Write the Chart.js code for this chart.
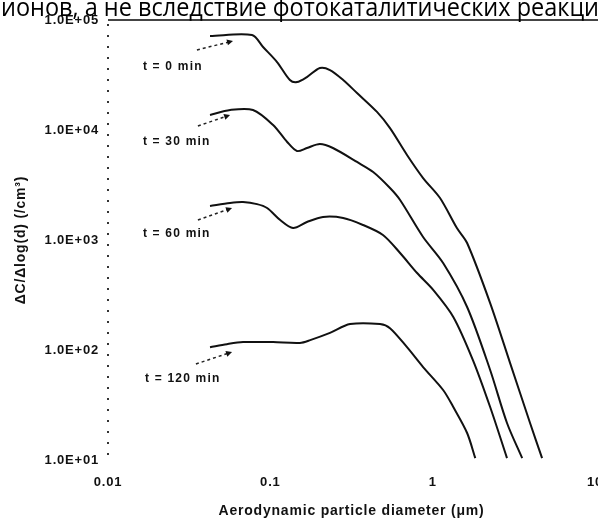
<!DOCTYPE html>
<html>
<head>
<meta charset="utf-8">
<script src="https://cdn.jsdelivr.net/npm/chart.js@4.4.0/dist/chart.umd.min.js"></script>
<style>
html, body { margin: 0; padding: 0; background: #fff; }
#wrap { width: 598px; height: 524px; }
</style>
</head>
<body>
<div id="wrap"><canvas id="sizechart"></canvas></div>
<script>
// text cut from the page above the figure
const headerText = 'ионов, а не вследствие фотокаталитических реакци';

// axes
const xTicks = [0.01, 0.1, 1, 10];
const xTickLabels = ['0.01', '0.1', '1', '10'];
const yTicks = [10, 100, 1000, 10000, 100000];
const yTickLabels = ['1.0E+01', '1.0E+02', '1.0E+03', '1.0E+04', '1.0E+05'];

// t = 0 min
const diam0 = [0.0425, 0.0771, 0.0902, 0.110, 0.132, 0.146, 0.168, 0.202, 0.233, 0.281, 0.342, 0.454, 0.546, 0.695, 0.873, 1.11, 1.41, 1.63, 2.26, 3.00, 3.98, 4.72];
const conc0 = [71500, 73000, 56800, 41500, 28500, 27300, 30300, 36600, 35100, 28500, 21700, 14600, 10400, 5930, 3660, 2410, 1285, 939, 267, 76, 21.7, 10.4];

// t = 30 min
const diam30 = [0.0425, 0.0565, 0.0782, 0.104, 0.127, 0.146, 0.168, 0.202, 0.243, 0.342, 0.430, 0.546, 0.630, 0.873, 1.16, 1.63, 2.26, 2.87, 3.56];
const conc30 = [13700, 15200, 15200, 11100, 7780, 6440, 6860, 7460, 6860, 5120, 4150, 2970, 2310, 1065, 618, 246, 65.8, 21.7, 10.4];

// t = 60 min
const diam60 = [0.0425, 0.0565, 0.0679, 0.0828, 0.0955, 0.115, 0.138, 0.168, 0.211, 0.281, 0.372, 0.494, 0.630, 0.802, 1.01, 1.34, 1.77, 2.26, 2.87];
const conc60 = [2040, 2170, 2210, 2120, 1955, 1520, 1285, 1458, 1620, 1585, 1370, 1110, 762, 501, 351, 200, 81, 30.3, 10.4];

// t = 120 min
const diam120 = [0.0425, 0.054, 0.0679, 0.104, 0.152, 0.176, 0.233, 0.310, 0.474, 0.546, 0.695, 0.873, 1.16, 1.34, 1.63, 1.83];
const conc120 = [106, 113, 118, 118, 116, 123, 143, 172, 172, 158, 106, 70, 43.3, 30.3, 17.6, 10.4];

// curve labels and the dashed pointers (data units)
const seriesLabels = ['t = 0 min', 't = 30 min', 't = 60 min', 't = 120 min'];
const labelX = [0.0164, 0.0164, 0.0164, 0.0169];
const labelY = [37400, 7780, 1134, 54.5];
const arrowFromX = [0.0353, 0.0358, 0.0358, 0.0348];
const arrowFromY = [53400, 10870, 1520, 74.6];
const arrowToX = [0.0589, 0.0565, 0.0581, 0.0581];
const arrowToY = [64500, 13700, 1955, 96];

function pairs(xs, ys) {
    return xs.map((x, i) => ({ x: x, y: ys[i] }));
}

function curve(label, xs, ys) {
    return {
        label: label,
        data: pairs(xs, ys),
        borderColor: '#111',
        borderWidth: 2,
        pointRadius: 0,
        tension: 0.3,
        fill: false
    };
}

const tickFont = { family: '"Liberation Sans", Arial, sans-serif', weight: 'bold', size: 13 };
const titleFont = { family: '"Liberation Sans", Arial, sans-serif', weight: 'bold', size: 14 };

// scanned figure: slightly spaced-out lettering
const spacing = {
    id: 'spacing',
    beforeDraw(chart) { chart.ctx.letterSpacing = '0.8px'; }
};

// header text, frame lines, curve labels and pointers
const extras = {
    id: 'extras',
    afterDatasetsDraw(chart) {
        const { ctx, chartArea } = chart;
        const xs = chart.scales.x, ys = chart.scales.y;
        ctx.save();

        // frame line along the top
        ctx.strokeStyle = '#444';
        ctx.lineWidth = 2;
        ctx.beginPath();
        ctx.moveTo(chartArea.left, chartArea.top);
        ctx.lineTo(chart.width, chartArea.top);
        ctx.stroke();

        // dotted y axis
        ctx.strokeStyle = '#333';
        ctx.setLineDash([2, 9]);
        ctx.beginPath();
        ctx.moveTo(chartArea.left, chartArea.top + 4);
        ctx.lineTo(chartArea.left, chartArea.bottom + 2);
        ctx.stroke();
        ctx.setLineDash([]);

        // labels + pointers
        ctx.fillStyle = '#111';
        ctx.font = 'bold 12px "Liberation Sans", Arial, sans-serif';
        ctx.textBaseline = 'middle';
        ctx.textAlign = 'left';
        ctx.letterSpacing = '1.2px';
        seriesLabels.forEach((txt, i) => {
            ctx.fillText(txt, xs.getPixelForValue(labelX[i]), ys.getPixelForValue(labelY[i]));

            const x1 = xs.getPixelForValue(arrowFromX[i]), y1 = ys.getPixelForValue(arrowFromY[i]);
            const x2 = xs.getPixelForValue(arrowToX[i]), y2 = ys.getPixelForValue(arrowToY[i]);
            const a = Math.atan2(y2 - y1, x2 - x1);
            ctx.strokeStyle = '#222';
            ctx.lineWidth = 1.5;
            ctx.setLineDash([3, 3]);
            ctx.beginPath();
            ctx.moveTo(x1, y1);
            ctx.lineTo(x2 - 5 * Math.cos(a), y2 - 5 * Math.sin(a));
            ctx.stroke();
            ctx.setLineDash([]);
            ctx.beginPath();
            ctx.moveTo(x2, y2);
            ctx.lineTo(x2 - 6 * Math.cos(a) + 3 * Math.sin(a), y2 - 6 * Math.sin(a) - 3 * Math.cos(a));
            ctx.lineTo(x2 - 6 * Math.cos(a) - 3 * Math.sin(a), y2 - 6 * Math.sin(a) + 3 * Math.cos(a));
            ctx.closePath();
            ctx.fill();
        });

        // scanned page text above the figure
        ctx.letterSpacing = '0px';
        ctx.font = '25px "Open Sans", sans-serif';
        ctx.textBaseline = 'alphabetic';
        ctx.fillStyle = '#000';
        ctx.fillText(headerText, 1, 16, 598);
        ctx.restore();
    }
};

const ctx = document.getElementById('sizechart').getContext('2d');

const sizechart = new Chart(ctx, {
    type: 'line',
    data: {
        datasets: [
            curve(seriesLabels[0], diam0, conc0),
            curve(seriesLabels[1], diam30, conc30),
            curve(seriesLabels[2], diam60, conc60),
            curve(seriesLabels[3], diam120, conc120)
        ]
    },
    options: {
        responsive: true,
        maintainAspectRatio: false,
        animation: false,
        layout: { padding: { top: 20, right: 3, left: 0, bottom: 0 } },
        plugins: {
            legend: { display: false },
            tooltip: { enabled: false }
        },
        scales: {
            x: {
                type: 'logarithmic',
                min: 0.01,
                max: 10,
                grid: { display: false, drawTicks: false },
                border: { display: false },
                afterBuildTicks: scale => { scale.ticks = xTicks.map(v => ({ value: v })); },
                afterFit: scale => {
                    scale.height = 64;
                    scale.paddingLeft = 0;
                    scale.paddingRight = 0;
                },
                ticks: {
                    color: '#111',
                    font: tickFont,
                    padding: 15,
                    maxRotation: 0,
                    autoSkip: false,
                    callback: (v, i) => xTickLabels[i]
                },
                title: {
                    display: true,
                    text: 'Aerodynamic particle diameter (μm)',
                    color: '#111',
                    font: titleFont,
                    padding: { top: 0, bottom: 4 }
                }
            },
            y: {
                type: 'logarithmic',
                min: 10,
                max: 100000,
                grid: { display: false, drawTicks: false },
                border: { display: false },
                afterBuildTicks: scale => { scale.ticks = yTicks.map(v => ({ value: v })); },
                afterFit: scale => {
                    scale.width = 108;
                    scale.paddingTop = 0;
                    scale.paddingBottom = 0;
                },
                ticks: {
                    color: '#111',
                    font: tickFont,
                    padding: 9,
                    autoSkip: false,
                    callback: (v, i) => yTickLabels[i]
                },
                title: {
                    display: true,
                    text: 'ΔC/Δlog(d) (/cm³)',
                    color: '#111',
                    font: titleFont,
                    padding: { top: 13, bottom: 0 }
                }
            }
        }
    },
    plugins: [spacing, extras]
});
</script>
</body>
</html>
